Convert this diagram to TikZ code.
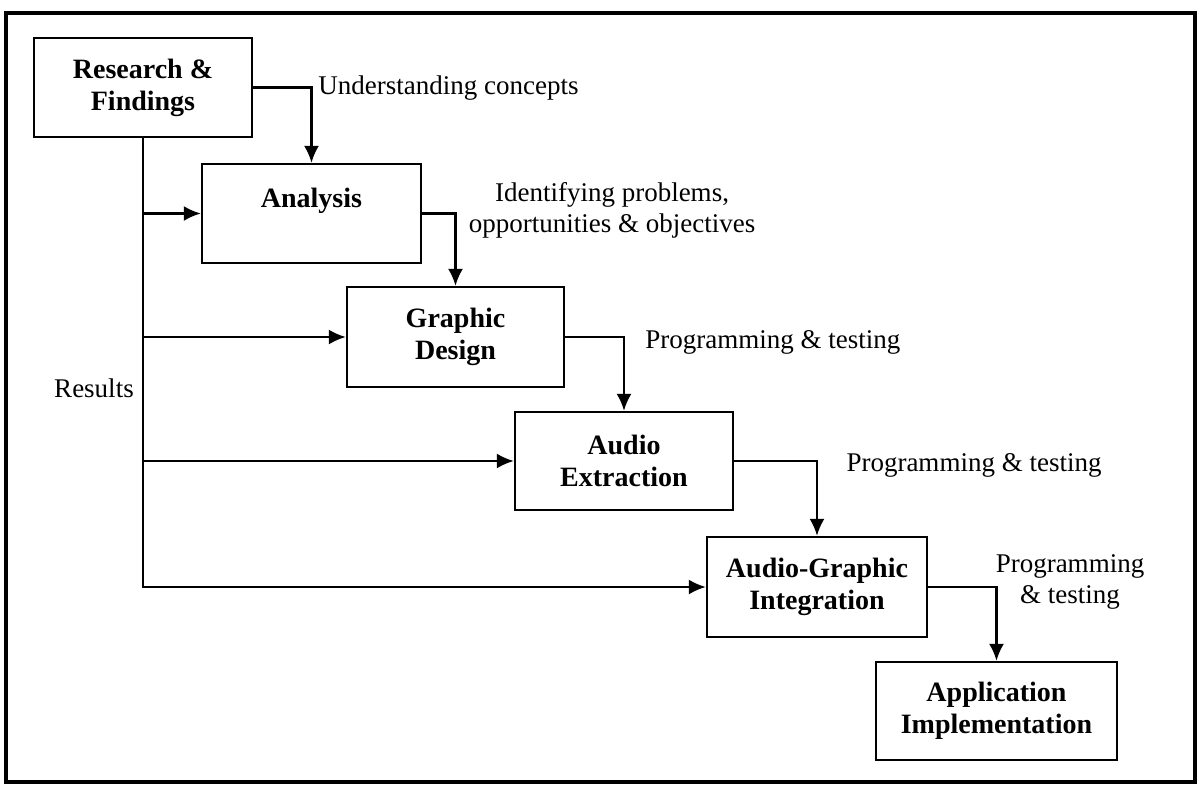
\documentclass[tikz,border=0pt]{standalone}
\usepackage{fontspec}
\setmainfont{Liberation Serif}
\usetikzlibrary{arrows.meta}

\begin{document}
\begin{tikzpicture}[x=0.5pt,y=-0.5pt,>={Latex[length=8.5pt,width=7.5pt]},
  stage/.style={draw,line width=1.2pt,align=center,inner sep=0pt,
    font=\bfseries\fontsize{14}{16}\selectfont},
  note/.style={align=center,inner sep=0pt,font=\fontsize{13.5}{15.5}\selectfont},
  link/.style={line width=1.1pt,->}]
\useasboundingbox (0,0) rectangle (1200,784);
\draw[line width=1.6pt] (6,13) rectangle (1195,782);
% stages
\node[stage,minimum width=109pt,minimum height=49.5pt] (rf) at (143,87.5) {Research \&\\Findings};
\node[stage,minimum width=109.5pt,minimum height=49.5pt] (an) at (311.5,213.5) {Analysis\\\mbox{}};
\node[stage,minimum width=108.5pt,minimum height=50pt] (gd) at (455.5,337) {Graphic\\Design};
\node[stage,minimum width=109pt,minimum height=49pt] (ae) at (624,461) {Audio\\Extraction};
\node[stage,minimum width=110pt,minimum height=50pt] (agi) at (817,587) {Audio-Graphic\\Integration};
\node[stage,minimum width=120.5pt,minimum height=49pt] (app) at (996.5,711) {Application\\Implementation};
% flow down the steps
\draw[link] (rf.east) -| (an.north);
\draw[link] (an.east) -| (gd.north);
\draw[link] (gd.east) -| (ae.north);
\draw[link] (ae.east) -| (agi.north);
\draw[link] (agi.east) -| (app.north);
% results back to each stage
\draw[link] (rf.south) |- (agi.west);
\foreach \n in {an,gd,ae}
  \draw[link] (rf.south |- \n.west) -- (\n.west);
% labels
\node[note,anchor=west] (uc) at (318,88) {Understanding concepts};
\node[note] (ip) at (612,210) {Identifying problems,\\opportunities \& objectives};
\node[note,anchor=west] (pt1) at (645,342) {Programming \& testing};
\node[note] (pt2) at (974,465) {Programming \& testing};
\node[note] (pt3) at (1070,582) {Programming\\\& testing};
\node[note] (res) at (94,388) {Results};
\end{tikzpicture}
\end{document}
